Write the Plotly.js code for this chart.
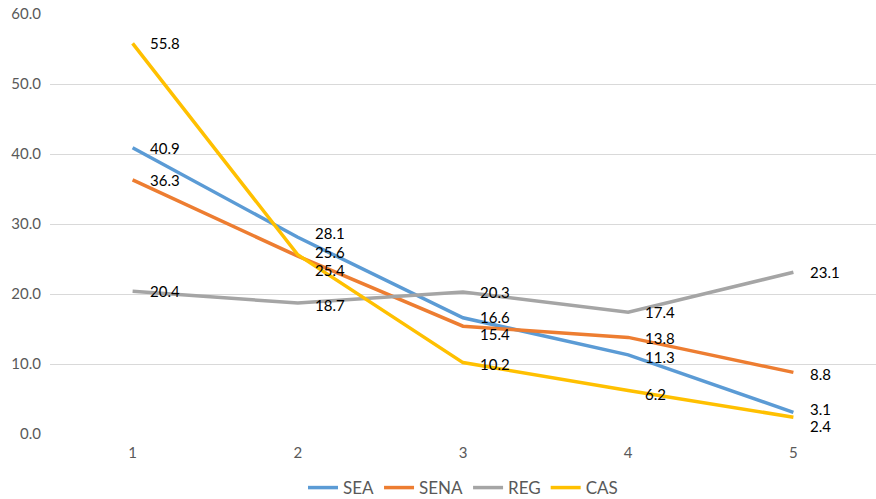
<!DOCTYPE html>
<html>
<head>
<meta charset="utf-8">
<script src="https://cdn.plot.ly/plotly-3.0.1.min.js"></script>
<style>
  html, body { margin: 0; padding: 0; background: #fff; }
  #chart { width: 876px; height: 499px; }
</style>
</head>
<body>
<div id="chart"></div>
<script>
// Categories and series values
const categories = [1, 2, 3, 4, 5];
const seriesNames = ['SEA', 'SENA', 'REG', 'CAS'];
const sea  = [40.9, 28.1, 16.6, 11.3, 3.1];
const sena = [36.3, 25.4, 15.4, 13.8, 8.8];
const reg  = [20.4, 18.7, 20.3, 17.4, 23.1];
const cas  = [55.8, 25.6, 10.2, 6.2, 2.4];
const tickLabels = ['0.0', '10.0', '20.0', '30.0', '40.0', '50.0', '60.0'];
const tickValues = [0, 10, 20, 30, 40, 50, 60];

const values = [sea, sena, reg, cas];
const colors = ['#5B9BD5', '#ED7D31', '#A5A5A5', '#FFC000'];

// small downward nudges so crowded labels do not sit on top of each other (pixels)
const labelNudge = {
  'SEA':  [0, -4, -1, 2, -3],
  'SENA': [0, 14, 8, 1, 2],
  'REG':  [0, 2, 0, 0, 0],
  'CAS':  [0, -3, 1, 3, 9]
};

const traces = seriesNames.map((name, i) => ({
  type: 'scatter',
  mode: 'lines',
  name: name,
  x: categories,
  y: values[i],
  line: { color: colors[i], width: 3.5 },
  hoverinfo: 'x+y+name'
}));

const annotations = [];
seriesNames.forEach((name, i) => {
  values[i].forEach((v, j) => {
    annotations.push({
      x: categories[j], y: v, xref: 'x', yref: 'y',
      text: v.toFixed(1),
      showarrow: false,
      xanchor: 'left', yanchor: 'middle',
      xshift: 15, yshift: -(labelNudge[name][j] || 0),
      font: { family: 'Lato, "Open Sans", sans-serif', size: 15, color: '#000' }
    });
  });
});

const layout = {
  width: 876, height: 499,
  margin: { l: 50, r: 0, t: 14, b: 65, autoexpand: false },
  paper_bgcolor: '#fff', plot_bgcolor: '#fff',
  font: { family: 'Lato, "Open Sans", sans-serif', size: 15, color: '#595959' },
  showlegend: true,
  legend: {
    orientation: 'h', x: 0.5, xanchor: 'center',
    yref: 'container', y: 0.022, yanchor: 'middle',
    font: { size: 17, color: '#595959' },
    traceorder: 'normal'
  },
  xaxis: {
    range: [0.5, 5.5],
    tickvals: categories,
    ticktext: categories.map(String),
    showgrid: false, zeroline: false, showline: false,
    ticks: '', ticklabelstandoff: 8, automargin: false
  },
  yaxis: {
    range: [0, 60],
    tickvals: tickValues,
    ticktext: tickLabels,
    showgrid: true, gridcolor: '#D9D9D9', gridwidth: 1,
    zeroline: false, showline: false, ticks: '',
    ticklabelstandoff: 8, automargin: false
  },
  annotations: annotations
};

Plotly.newPlot('chart', traces, layout, { displayModeBar: false, staticPlot: true });
</script>
</body>
</html>
